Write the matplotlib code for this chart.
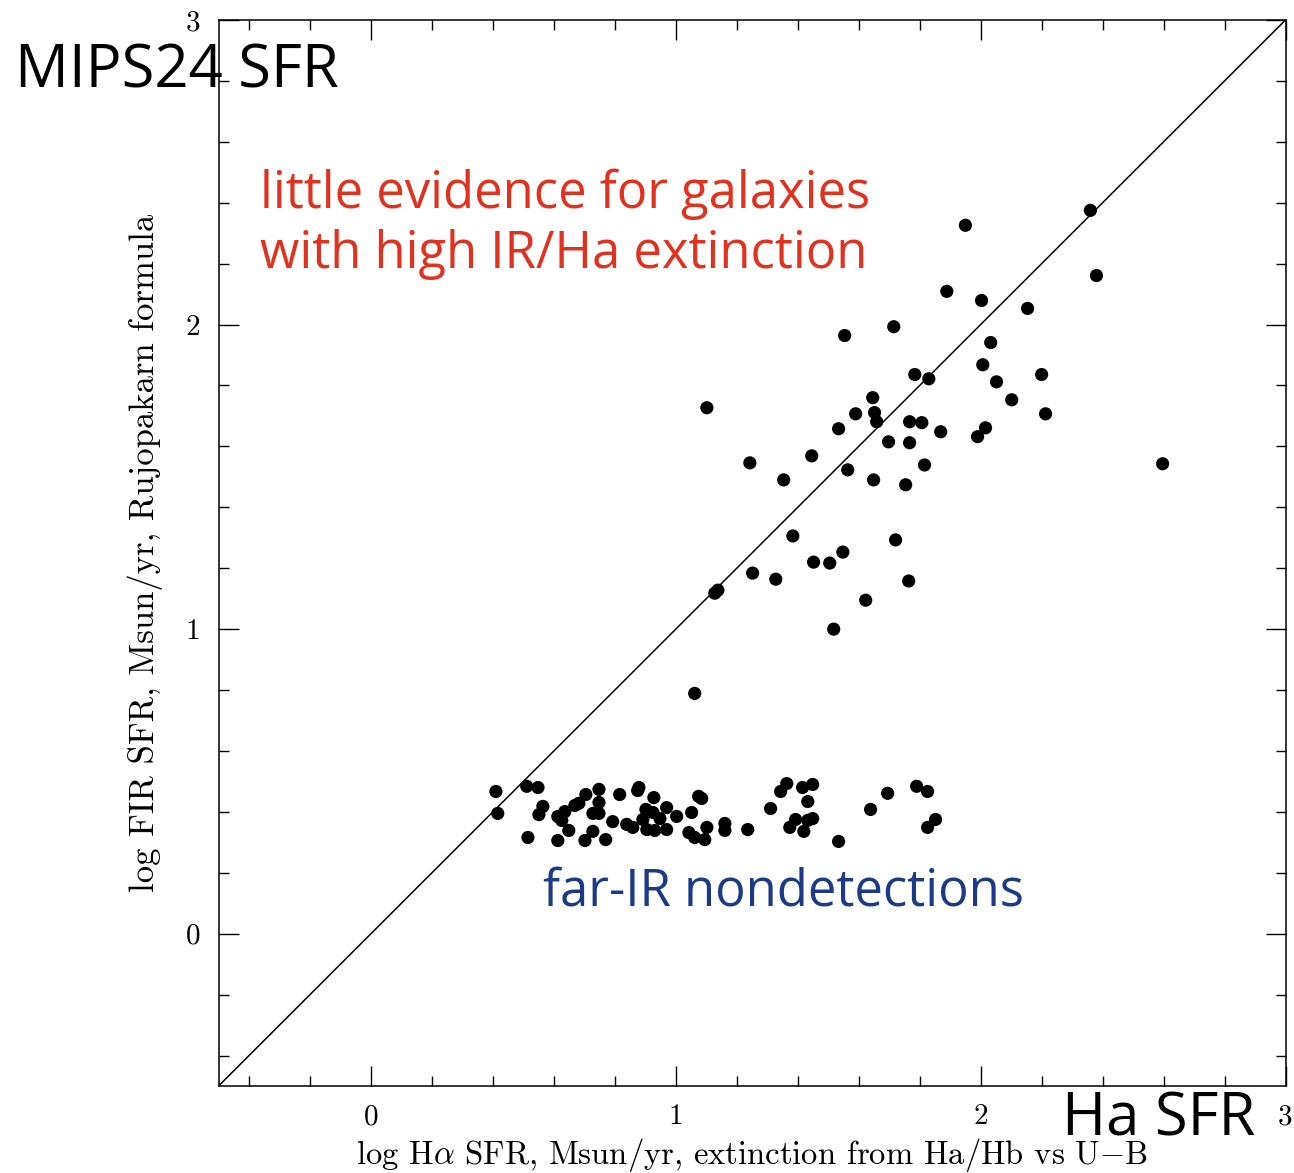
import matplotlib
matplotlib.use("Agg")
import matplotlib.pyplot as plt
import numpy as np

plt.rcParams['font.family'] = 'serif'
plt.rcParams['font.serif'] = ['cmr10']
plt.rcParams['mathtext.fontset'] = 'cm'
plt.rcParams['axes.formatter.use_mathtext'] = True

# --- data: detected galaxies (log Ha SFR, log FIR SFR) ---
det_x = [2.36, 1.95, 2.38, 1.889, 2.003, 2.154, 1.715, 1.554, 2.033, 2.007,
         2.20, 1.784, 1.830, 2.052, 1.646, 2.102, 1.102, 1.652, 1.590, 1.659,
         1.767, 1.807, 2.213, 1.534, 1.869, 2.016, 1.990, 1.698, 1.767, 1.446,
         1.243, 2.597, 1.816, 1.564, 1.354, 1.649, 1.754,
         1.384, 1.721, 1.548, 1.452, 1.505, 1.252, 1.328, 1.764, 1.128, 1.138,
         1.623, 1.518, 1.062]
det_y = [2.375, 2.326, 2.161, 2.109, 2.079, 2.053, 1.993, 1.964, 1.941, 1.868,
         1.836, 1.836, 1.822, 1.812, 1.760, 1.753, 1.727, 1.711, 1.707, 1.681,
         1.681, 1.678, 1.707, 1.658, 1.648, 1.661, 1.632, 1.615, 1.612, 1.569,
         1.546, 1.543, 1.539, 1.523, 1.490, 1.490, 1.474,
         1.306, 1.293, 1.253, 1.220, 1.217, 1.184, 1.164, 1.158, 1.118, 1.128,
         1.095, 1.000, 0.789]

# --- data: far-IR nondetections ---
nd_x = [0.410, 0.416, 0.511, 0.548, 0.564, 0.551, 0.515, 0.613, 0.626, 0.636,
        0.649, 0.613, 0.669, 0.682, 0.705, 0.748, 0.748, 0.728, 0.748, 0.728,
        0.702, 0.770, 0.793, 0.816, 0.879, 0.875, 0.839, 0.859, 0.902, 0.892,
        0.928, 0.925, 0.948, 0.905, 0.931, 0.970, 0.970, 1.003, 1.052, 1.043,
        1.062, 1.075, 1.085, 1.102, 1.095, 1.161, 1.161, 1.236, 1.311, 1.344,
        1.364, 1.416, 1.449, 1.433, 1.393, 1.374, 1.433, 1.449, 1.420, 1.534,
        1.639, 1.695, 1.790, 1.826, 1.852, 1.826]
nd_y = [0.467, 0.395, 0.484, 0.480, 0.418, 0.391, 0.316, 0.385, 0.372, 0.401,
        0.339, 0.306, 0.421, 0.428, 0.457, 0.474, 0.431, 0.395, 0.395, 0.336,
        0.306, 0.309, 0.368, 0.457, 0.480, 0.470, 0.359, 0.349, 0.408, 0.375,
        0.447, 0.398, 0.378, 0.342, 0.339, 0.414, 0.342, 0.385, 0.398, 0.332,
        0.316, 0.451, 0.444, 0.349, 0.309, 0.362, 0.339, 0.342, 0.411, 0.467,
        0.493, 0.480, 0.490, 0.434, 0.375, 0.349, 0.372, 0.378, 0.336, 0.303,
        0.408, 0.461, 0.484, 0.467, 0.375, 0.349]

xlim = (-0.5, 3.0)
ylim = (-0.5, 3.0)
major_ticks = [0, 1, 2, 3]
tick_labels = ['0', '1', '2', '3']
xlabel = r"log H$\alpha$ SFR, Msun/yr, extinction from Ha/Hb vs U$-$B"
ylabel = "log FIR SFR, Msun/yr, Rujopakarn formula"

W, H = 1294, 1173
fig = plt.figure(figsize=(W / 100, H / 100), dpi=100)
ax = fig.add_axes([218.5 / W, 1 - 1086 / H, 1067 / W, 1066 / H])

ax.plot(xlim, ylim, color='black', lw=1.1, zorder=1)
ax.scatter(det_x, det_y, s=90, color='black', edgecolors='none', zorder=2)
ax.scatter(nd_x, nd_y, s=90, color='black', edgecolors='none', zorder=2)

ax.set_xlim(*xlim)
ax.set_ylim(*ylim)
ax.set_xticks(major_ticks)
ax.set_xticklabels(tick_labels)
ax.set_yticks(major_ticks)
ax.set_yticklabels(tick_labels)
ax.set_xticks(np.arange(-0.4, 3.0, 0.2), minor=True)
ax.set_yticks(np.arange(-0.4, 3.0, 0.2), minor=True)
ax.tick_params(which='both', direction='in', top=True, right=True, width=1.0)
ax.tick_params(which='major', length=14.5, labelsize=21)
ax.tick_params(which='minor', length=7.2)
ax.tick_params(axis='x', which='major', pad=13)
ax.tick_params(axis='y', which='major', pad=13)
for sp in ax.spines.values():
    sp.set_linewidth(1.1)

ax.set_xlabel(xlabel, fontsize=23.5)
ax.set_ylabel(ylabel, fontsize=25)
ax.xaxis.set_label_coords(0.5, (1086 - 1136) / 1066)
ax.yaxis.set_label_coords((163 - 218.5) / 1067, 0.5)

sans = ['Open Sans', 'DejaVu Sans']
fig.text(15 / W, 1 - 88 / H, "MIPS24 SFR", fontsize=43, family=sans,
         ha='left', va='baseline', color='black')
red = '#e2311d'
fig.text(260 / W, 1 - 208 / H, "little evidence for galaxies", fontsize=36.5,
         family=sans, ha='left', va='baseline', color=red)
fig.text(260 / W, 1 - 268 / H, "with high IR/Ha extinction", fontsize=36.5,
         family=sans, ha='left', va='baseline', color=red)
fig.text(543 / W, 1 - 905 / H, "far-IR nondetections", fontsize=36.5,
         family=sans, ha='left', va='baseline', color='#1b3a8a')
fig.text(1062 / W, 1 - 1136 / H, "Ha SFR", fontsize=43,
         family=sans, ha='left', va='baseline', color='black')

fig.savefig('out.png', dpi=100)
